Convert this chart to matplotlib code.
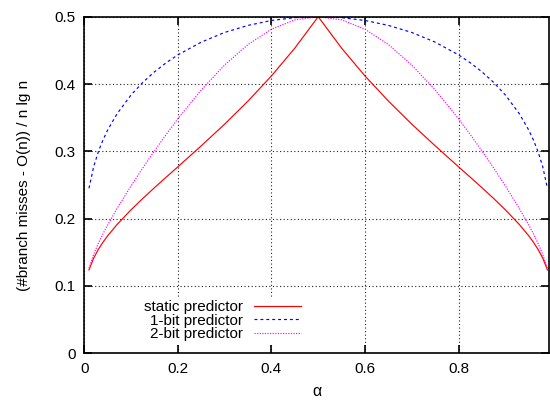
import matplotlib
matplotlib.use("Agg")
import matplotlib.pyplot as plt

plt.rcParams['font.family'] = ['Liberation Sans', 'DejaVu Sans']

alpha = [0.01, 0.02, 0.03, 0.04, 0.05, 0.07, 0.1, 0.125, 0.15, 0.175, 0.2, 0.25, 0.3,
         0.35, 0.4, 0.45, 0.5, 0.55, 0.6, 0.65, 0.7, 0.75, 0.8, 0.825, 0.85, 0.875,
         0.9, 0.93, 0.95, 0.96, 0.97, 0.98, 0.99]

static_pred = [0.1238, 0.1414, 0.1543, 0.1651, 0.1746, 0.1913, 0.2132, 0.2300, 0.2460,
               0.2616, 0.2770, 0.3082, 0.3404, 0.3747, 0.4120, 0.4533, 0.5,
               0.4533, 0.4120, 0.3747, 0.3404, 0.3082, 0.2770, 0.2616, 0.2460, 0.2300,
               0.2132, 0.1913, 0.1746, 0.1651, 0.1543, 0.1414, 0.1238]

onebit_pred = [0.2451, 0.2771, 0.2994, 0.3170, 0.3317, 0.3558, 0.3838, 0.4024, 0.4181,
               0.4316, 0.4433, 0.4622, 0.4766, 0.4871, 0.4944, 0.4986, 0.5,
               0.4986, 0.4944, 0.4871, 0.4766, 0.4622, 0.4433, 0.4316, 0.4181, 0.4024,
               0.3838, 0.3558, 0.3317, 0.3170, 0.2994, 0.2771, 0.2451]

twobit_pred = [0.1262, 0.1469, 0.1632, 0.1775, 0.1907, 0.2151, 0.2488, 0.2753, 0.3007,
               0.3250, 0.3483, 0.3911, 0.4283, 0.4587, 0.4814, 0.4953, 0.5,
               0.4953, 0.4814, 0.4587, 0.4283, 0.3911, 0.3483, 0.3250, 0.3007, 0.2753,
               0.2488, 0.2151, 0.1907, 0.1775, 0.1632, 0.1469, 0.1262]

labels = ["static predictor", "1-bit predictor", "2-bit predictor"]
xticks = [0, 0.2, 0.4, 0.6, 0.8]
xticklabels = ["0", "0.2", "0.4", "0.6", "0.8"]
yticks = [0, 0.1, 0.2, 0.3, 0.4, 0.5]
yticklabels = ["0", "0.1", "0.2", "0.3", "0.4", "0.5"]

fig = plt.figure(figsize=(5.5, 4.01), dpi=100)
ax = fig.add_axes([84.3 / 550, 1 - 353.3 / 401, (549.3 - 84.3) / 550, (353.3 - 16.7) / 401])

ax.plot(alpha, static_pred, color='#ff0000', lw=0.85, label=labels[0])
ax.plot(alpha, onebit_pred, color='#0000ff', lw=0.85, dashes=(2.5, 2.5), label=labels[1])
ax.plot(alpha, twobit_pred, color='#ff00ff', lw=0.85, dashes=(1, 1.2), label=labels[2])

ax.set_xlim(0, 0.994)
ax.set_ylim(0, 0.5)
ax.set_xticks(xticks)
ax.set_xticklabels(xticklabels)
ax.set_yticks(yticks)
ax.set_yticklabels(yticklabels)

ax.grid(True, color='#222222', lw=0.8, linestyle=(0, (1, 2.2)))
ax.tick_params(direction='in', length=5.5, width=1.2, top=True, right=True,
               labelsize=11, pad=6, colors='black')
for s in ax.spines.values():
    s.set_linewidth(1.2)

ax.set_xlabel("α", fontsize=11.5, labelpad=6)
ax.set_ylabel("(#branch misses - O(n)) / n lg n", fontsize=11, labelpad=17)

leg = ax.legend(loc='center right', bbox_to_anchor=((303.3 - 84.3) / 465, (353.3 - 320.7) / 336.6),
                markerfirst=False, frameon=True, fancybox=False, framealpha=1,
                facecolor='white', edgecolor='none', borderpad=0.15, borderaxespad=0,
                handlelength=3.1, handletextpad=0.7, labelspacing=-0.05, fontsize=11)

fig.savefig("out.png", dpi=100)
